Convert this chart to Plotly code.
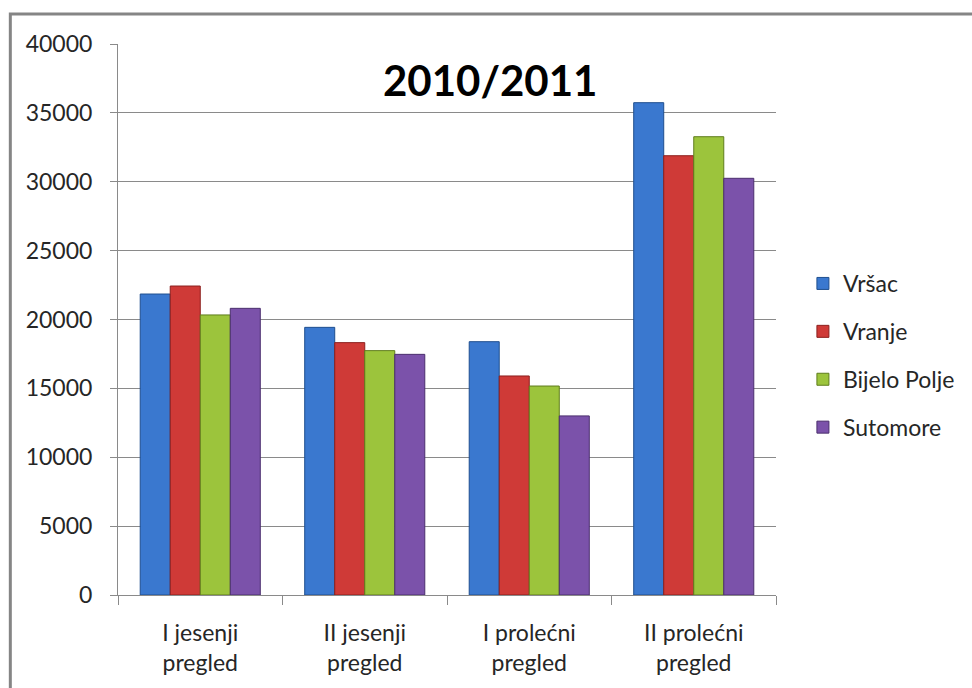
import plotly.graph_objects as go

categories = ["I jesenji<br>pregled", "II jesenji<br>pregled", "I prolećni<br>pregled", "II prolećni<br>pregled"]
series_names = ["Vršac", "Vranje", "Bijelo Polje", "Sutomore"]
vrsac = [21850, 19430, 18390, 35740]
vranje = [22430, 18320, 15900, 31890]
bijelo_polje = [20330, 17740, 15170, 33270]
sutomore = [20810, 17470, 13000, 30250]
colors = ["#3a78cf", "#cf3a37", "#9cc43c", "#7b52aa"]
edge_colors = ["#1f4f8f", "#8c1f1d", "#5f7d1c", "#4b2f6e"]
y_ticks = [0, 5000, 10000, 15000, 20000, 25000, 30000, 35000, 40000]

W, H = 972, 688
L, R, T, B = 118, 778, 44, 595
pw, ph = R - L, B - T

def px(x):
    return (x - L) / pw

def py(y):
    return (B - y) / ph

fig = go.Figure()
for i, (name, vals) in enumerate(zip(series_names, [vrsac, vranje, bijelo_polje, sutomore])):
    fig.add_trace(go.Bar(
        x=categories, y=vals, name=name,
        marker=dict(color=colors[i], line=dict(color=edge_colors[i], width=1)),
        legendgroup=name,
    ))

fig.update_layout(
    width=W, height=H,
    margin=dict(l=L, r=W - R, t=T, b=H - B),
    paper_bgcolor="white", plot_bgcolor="white",
    barmode="group", bargap=0.27, bargroupgap=0,
    font=dict(family="Lato, Open Sans, sans-serif", size=22, color="#262626"),
    showlegend=True,
    legend=dict(x=px(805), y=py(262), xanchor="left", yanchor="top",
                font=dict(size=23, color="#262626"),
                traceorder="grouped", tracegroupgap=15,
                itemwidth=30,
                bgcolor="rgba(0,0,0,0)"),
    annotations=[dict(text="<b>2010/2011</b>", x=px(491), y=py(80),
                      xref="paper", yref="paper", showarrow=False,
                      xanchor="center", yanchor="middle",
                      font=dict(size=42, color="#000000", family="Lato, Open Sans, sans-serif"))],
    shapes=[dict(type="rect", xref="paper", yref="paper",
                 x0=px(10), x1=px(1000), y0=py(14), y1=py(720),
                 line=dict(color="#858585", width=3), fillcolor="rgba(0,0,0,0)", layer="below")],
)

fig.update_yaxes(range=[0, 40000], tickvals=y_ticks, ticktext=[str(v) for v in y_ticks],
                 showgrid=True, gridcolor="#8a8a8a", gridwidth=1,
                 showline=True, linecolor="#8a8a8a", linewidth=1,
                 ticks="outside", ticklen=7, tickcolor="#8a8a8a",
                 ticklabelstandoff=13, zeroline=False,
                 tickfont=dict(size=23))
fig.update_xaxes(showline=True, linecolor="#8a8a8a", linewidth=1,
                 ticks="outside", ticklen=9, tickcolor="#8a8a8a",
                 tickson="boundaries", showgrid=False,
                 ticklabelstandoff=17,
                 tickfont=dict(size=23))

fig.write_html("out.html")
